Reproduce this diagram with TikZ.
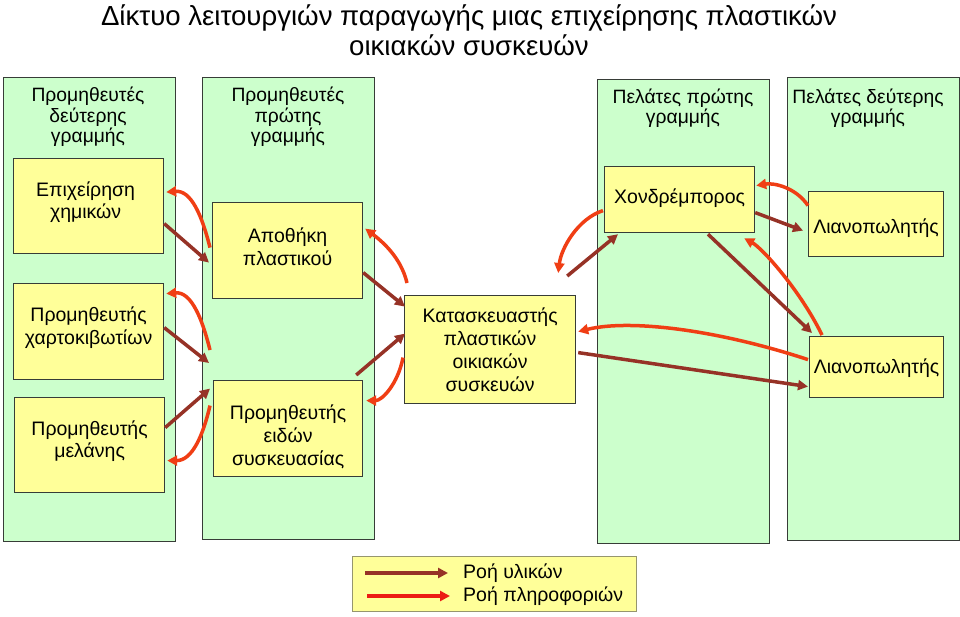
\documentclass[tikz,border=0pt]{standalone}
\usepackage{fontspec}
\setmainfont{Liberation Sans}
\usetikzlibrary{arrows.meta,calc}
\definecolor{colfill}{RGB}{204,255,204}
\definecolor{boxfill}{RGB}{255,255,153}
\definecolor{bordgray}{RGB}{55,60,55}
\definecolor{legbord}{RGB}{150,150,110}
\definecolor{matcol}{RGB}{150,50,38}
\definecolor{infocol}{RGB}{240,62,20}
\definecolor{leginfocol}{RGB}{236,28,20}
\begin{document}
\begin{tikzpicture}[x=1pt,y=-1pt,
  colbox/.style={draw=bordgray, line width=1.2pt, fill=colfill, anchor=north west, minimum width=172pt, inner sep=0pt},
  ybox/.style={draw=bordgray, line width=1.2pt, fill=boxfill, anchor=north west, inner sep=0pt},
  txt/.style={align=center, font=\fontsize{19.5}{22.8}\selectfont, inner sep=0pt},
  htxt/.style={align=center, font=\fontsize{19.3}{20.5}\selectfont, inner sep=0pt},
  titletxt/.style={align=center, font=\fontsize{27.6}{29.5}\selectfont, inner sep=0pt},
  matflow/.style={draw=matcol, line width=3.5pt, -{Triangle[length=10pt,width=10pt]}},
  infoflow/.style={draw=infocol, line width=3.5pt, -{Triangle[length=10pt,width=10pt]}}
]
\useasboundingbox (0,0) rectangle (960,616);
\fill[white] (0,0) rectangle (960,616);

% title
\node[titletxt] (title) at (469,30) {Δίκτυο λειτουργιών παραγωγής μιας επιχείρησης πλαστικών\\οικιακών συσκευών};

% columns
\node[colbox, minimum height=464pt] (c1) at (3,77) {};
\node[colbox, minimum height=462pt] (c2) at (202,77) {};
\node[colbox, minimum height=464pt] (c3) at (597,79) {};
\node[colbox, minimum height=463pt] (c4) at (787,77) {};

\node[htxt] (h1) at (88,117) {Προμηθευτές\\δεύτερης\\γραμμής};
\node[htxt] (h2) at (288,117) {Προμηθευτές\\πρώτης\\γραμμής};
\node[htxt] (h3) at (683,108) {Πελάτες πρώτης\\γραμμής};
\node[htxt] (h4) at (868,108) {Πελάτες δεύτερης\\γραμμής};

% boxes
\node[ybox, minimum width=150pt, minimum height=95pt] (chem) at (13,158) {};
\node[ybox, minimum width=150pt, minimum height=96pt] (store) at (212,202) {};
\node[ybox, minimum width=150pt, minimum height=96pt] (carton) at (13,283) {};
\node[ybox, minimum width=150pt, minimum height=95pt] (ink) at (14,397) {};
\node[ybox, minimum width=149pt, minimum height=96pt] (pack) at (213,380) {};
\node[ybox, minimum width=171pt, minimum height=108pt] (manu) at (404,295) {};
\node[ybox, minimum width=150pt, minimum height=66pt] (whole) at (604,166) {};
\node[ybox, minimum width=135pt, minimum height=65pt] (ret1) at (808,191) {};
\node[ybox, minimum width=134pt, minimum height=61pt] (ret2) at (809,336) {};

\node[txt] (chemt) at ($(chem.center)+(-3,-4)$) {Επιχείρηση\\χημικών};
\node[txt] (storet) at ($(store.center)+(0,-4)$) {Αποθήκη\\πλαστικού};
\node[txt] (cartont) at ($(carton.center)+(0,-4)$) {Προμηθευτής\\χαρτοκιβωτίων};
\node[txt] (inkt) at ($(ink.center)+(0,-4)$) {Προμηθευτής\\μελάνης};
\node[txt] (packt) at ($(pack.center)+(0,8)$) {Προμηθευτής\\ειδών\\συσκευασίας};
\node[txt] (manut) at ($(manu.center)+(0,0)$) {Κατασκευαστής\\πλαστικών\\οικιακών\\συσκευών};
\node[txt] (wholet) at ($(whole.center)+(0,-1)$) {Χονδρέμπορος};
\node[txt] (ret1t) at ($(ret1.center)+(0,4)$) {Λιανοπωλητής};
\node[txt] (ret2t) at ($(ret2.center)+(0,1.5)$) {Λιανοπωλητής};

% flows: second-tier suppliers -> first-tier suppliers
\draw[matflow] ($(chem.east)+(0,17.5)$) -- ($(store.west)+(-3,12)$);
\draw[infoflow] ($(store.west)+(-2,-3)$) .. controls +(-8,-32) and +(25,-2) .. ($(chem.east)+(2,-14)$);
\draw[matflow] ($(carton.east)+(0,-4)$) -- ($(pack.north west)+(-4,-17)$);
\draw[infoflow] ($(pack.north west)+(-3,-30)$) .. controls +(-8,-32) and +(25,-2) .. ($(carton.east)+(2,-38)$);
\draw[matflow] ($(ink.east)+(0,-17.5)$) -- ($(pack.west)+(-3,-40)$);
\draw[infoflow] ($(pack.west)+(-3,-23)$) .. controls +(-7,30) and +(25,0) .. ($(ink.east)+(2,15.5)$);

% first-tier suppliers <-> manufacturer
\draw[matflow] ($(store.east)+(0,22)$) -- ($(manu.west)+(1,-43)$);
\draw[infoflow] ($(manu.north west)+(3,-12)$) .. controls +(-6,-26) and +(16,12) .. ($(store.east)+(2,-22)$);
\draw[matflow] ($(pack.north east)+(-7,-5)$) -- ($(manu.west)+(1,-16)$);
\draw[infoflow] ($(manu.west)+(-1,8)$) .. controls +(-5,26) and +(16,0) .. ($(pack.east)+(3,-28)$);

% manufacturer <-> customers
\draw[matflow] ($(manu.east)+(2,3)$) -- ($(ret2.west)+(-1,19.5)$);
\draw[infoflow] ($(ret2.west)+(-1,-7.5)$) .. controls +(-88,-29) and +(53,-13) .. ($(manu.east)+(2,-18)$);
\draw[matflow] ($(manu.north east)+(-9,-19)$) -- ($(whole.south west)+(14,1)$);
\draw[infoflow] ($(whole.west)+(-1,11)$) .. controls +(-25,8) and +(3,-25) .. ($(manu.north east)+(-18,-22)$);

% wholesaler <-> retailers
\draw[matflow] ($(whole.east)+(0,13)$) -- ($(ret1.west)+(-5,6.5)$);
\draw[infoflow] ($(ret1.west)+(0,-18.5)$) .. controls +(-12,-18) and +(18,-3) .. ($(whole.east)+(1,-14)$);
\draw[matflow] ($(whole.south west)+(104,1)$) -- ($(ret2.north west)+(3,-3)$);
\draw[infoflow] ($(ret2.north west)+(13,-1)$) .. controls +(-22,-45) and +(18,10) .. ($(whole.south east)+(-11,5)$);

% legend
\node[draw=legbord, line width=0.8pt, fill=boxfill, anchor=north west, minimum width=284pt, minimum height=55pt, inner sep=0pt] (legend) at (352,556) {};
\node[txt, anchor=west] (legm) at (463,573) {Ροή υλικών};
\node[txt, anchor=west] (legi) at (463,596) {Ροή πληροφοριών};
\draw[matflow, line width=4pt] ($(legm.west)+(-98,0)$) -- ($(legm.west)+(-15,0)$);
\draw[infoflow, draw=leginfocol, line width=4pt] ($(legi.west)+(-96,0)$) -- ($(legi.west)+(-13,0)$);
\end{tikzpicture}
\end{document}
